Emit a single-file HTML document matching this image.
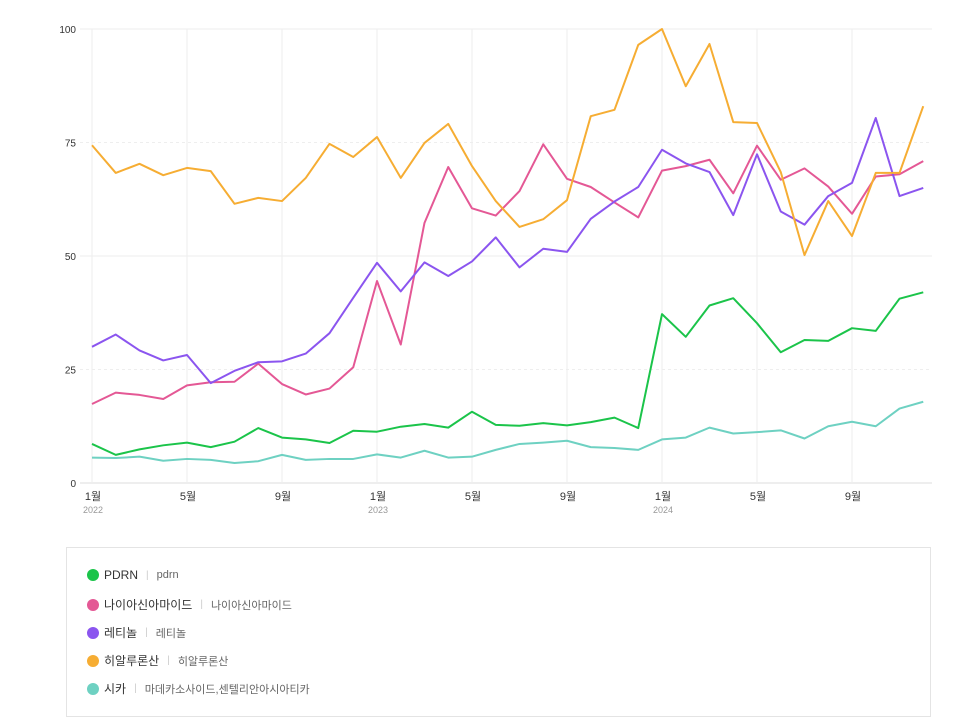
<!DOCTYPE html>
<html><head><meta charset="utf-8"><style>
body{margin:0;background:#fff;font-family:"Liberation Sans","Noto Sans CJK KR",sans-serif;}
#wrap{position:relative;width:954px;height:720px;overflow:hidden}
#legend{position:absolute;left:66px;top:547px;width:865px;height:170px;border:1px solid #e4e4e4;box-sizing:border-box}
.li{position:absolute;left:20px;font-size:12px;color:#333;display:flex;align-items:center}
.dot{width:12px;height:12px;border-radius:50%;margin-right:5px}
.sep{color:#ccc;margin:0 8px;font-size:10px}
.sub{color:#666;font-size:11px}
</style></head><body>
<div id="wrap">
<svg id="chart" width="954" height="540" style="position:absolute;left:0;top:0"></svg>
<div id="legend">
<div class="li" style="top:20px"><span class="dot" style="background:#1bc44a"></span>PDRN<span class="sep">|</span><span class="sub">pdrn</span></div>
<div class="li" style="top:48px"><span class="dot" style="background:#e45895"></span>나이아신아마이드<span class="sep">|</span><span class="sub">나이아신아마이드</span></div>
<div class="li" style="top:76px"><span class="dot" style="background:#8b55ef"></span>레티놀<span class="sep">|</span><span class="sub">레티놀</span></div>
<div class="li" style="top:104px"><span class="dot" style="background:#f6ad33"></span>히알루론산<span class="sep">|</span><span class="sub">히알루론산</span></div>
<div class="li" style="top:132px"><span class="dot" style="background:#6ed1c2"></span>시카<span class="sep">|</span><span class="sub">마데카소사이드,센텔리안아시아티카</span></div>
</div>
</div>
<script>
const yTicks=[0,25,50,75,100];
const xTickMonths=[0,4,8,12,16,20,24,28,32];
const xTickLabels=["1월","5월","9월","1월","5월","9월","1월","5월","9월"];
const xYearLabels=["2022","","","2023","","","2024","",""];
const seriesNames=["PDRN","나이아신아마이드","레티놀","히알루론산","시카"];
const seriesColors=["#1bc44a","#e45895","#8b55ef","#f6ad33","#6ed1c2"];
const pdrn=[8.6,6.2,7.4,8.3,8.9,7.9,9.1,12.1,10.0,9.6,8.8,11.5,11.3,12.4,13.0,12.2,15.7,12.8,12.6,13.2,12.7,13.4,14.4,12.1,37.2,32.2,39.1,40.7,35.2,28.8,31.5,31.3,34.1,33.5,40.6,42.0];
const niacin=[17.4,19.9,19.4,18.5,21.5,22.2,22.3,26.3,21.8,19.5,20.8,25.5,44.5,30.5,57.3,69.6,60.5,58.9,64.3,74.6,67.0,65.2,61.8,58.5,68.8,69.8,71.2,63.8,74.3,66.8,69.3,65.3,59.3,67.5,68.0,70.9];
const retinol=[30.0,32.7,29.2,27.0,28.2,22.0,24.7,26.6,26.8,28.5,33.0,40.8,48.5,42.2,48.6,45.6,48.8,54.1,47.5,51.6,50.9,58.2,62.0,65.2,73.4,70.4,68.5,59.0,72.4,59.8,56.9,63.2,66.1,80.4,63.2,65.0];
const hyal=[74.4,68.3,70.3,67.8,69.4,68.7,61.5,62.8,62.1,67.2,74.7,71.8,76.2,67.2,74.9,79.1,69.8,62.1,56.4,58.1,62.3,80.8,82.2,96.5,100,87.4,96.7,79.5,79.3,68.5,50.2,62.1,54.4,68.3,68.3,83.0];
const cica=[5.6,5.5,5.8,4.9,5.3,5.1,4.4,4.8,6.2,5.1,5.3,5.3,6.3,5.6,7.1,5.6,5.8,7.3,8.6,8.9,9.3,7.9,7.7,7.3,9.6,10.0,12.2,10.9,11.2,11.6,9.8,12.5,13.5,12.5,16.4,17.9];
const allSeries=[pdrn,niacin,retinol,hyal,cica];
const NS="http://www.w3.org/2000/svg";
const svg=document.getElementById('chart');
const x=i=>92+i*23.75;
const y=v=>483-v*4.54;
function mk(t,a){const e=document.createElementNS(NS,t);for(const k in a)e.setAttribute(k,a[k]);svg.appendChild(e);return e;}
yTicks.forEach(t=>{
  const g=mk('line',{x1:80,x2:932,y1:y(t),y2:y(t),stroke:(t===0?'#ddd':'#eee'),'stroke-dasharray':(t%50===25?'3,3':'')});
  
  
  const l=mk('text',{x:76,y:y(t)+4,'text-anchor':'end','font-size':10,fill:'#333','font-family':'Liberation Sans, sans-serif'});
  l.textContent=t;
  
  
});
xTickMonths.forEach((m,i)=>{
  const g=mk('line',{x1:x(m),x2:x(m),y1:29,y2:483,stroke:'#eee'});
  
  
  const l=mk('text',{x:x(m)+1,y:500,'text-anchor':'middle','font-size':11,fill:'#333','font-family':'Liberation Sans, Noto Sans CJK KR, sans-serif'});
  l.textContent=xTickLabels[i];
  
  
  if(xYearLabels[i]){
    const yl=mk('text',{x:x(m)+1,y:513,'text-anchor':'middle','font-size':9,fill:'#999','font-family':'Liberation Sans, sans-serif'});
    yl.textContent=xYearLabels[i];
    
    
  }
});
allSeries.forEach((s,k)=>{
  const p=mk('polyline',{points:s.map((v,i)=>x(i)+','+y(v)).join(' '),fill:'none',stroke:seriesColors[k],'stroke-width':2,'stroke-linejoin':'round'});
  
  
});
</script>
</body></html>
